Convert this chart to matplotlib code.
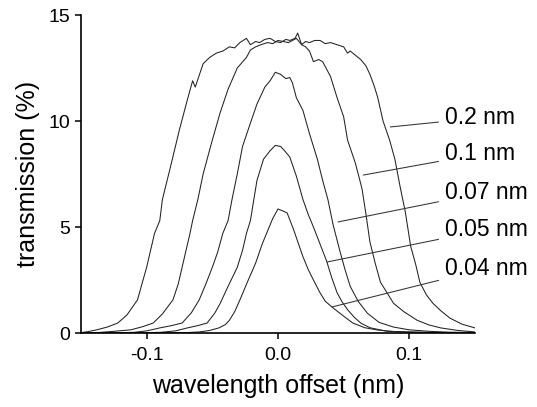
import matplotlib
matplotlib.use("Agg")
import matplotlib.pyplot as plt

plt.rcParams["font.family"] = ["Liberation Sans", "DejaVu Sans"]
plt.rcParams["axes.unicode_minus"] = False

# transmission curves (wavelength offset in nm, transmission in %)
x_02 = [-0.150, -0.145, -0.138, -0.130, -0.122, -0.115, -0.107, -0.100, -0.094, -0.090,
        -0.088, -0.082, -0.075, -0.069, -0.065, -0.063, -0.057, -0.052, -0.047, -0.042,
        -0.037, -0.033, -0.029, -0.024, -0.021, -0.017, -0.014, -0.010, -0.006, -0.002,
        0.002, 0.006, 0.009, 0.013, 0.015, 0.018, 0.021, 0.024, 0.028, 0.032, 0.036,
        0.040, 0.045, 0.050, 0.053, 0.055, 0.059, 0.063, 0.067, 0.070, 0.073, 0.076,
        0.080, 0.085, 0.089, 0.093, 0.097, 0.101, 0.105, 0.108, 0.113, 0.118, 0.124,
        0.131, 0.140, 0.150]
y_02 = [0.02, 0.06, 0.15, 0.28, 0.47, 0.85, 1.56, 3.1, 4.7, 5.3,
        6.3, 7.8, 9.6, 11.0, 11.9, 11.6, 12.7, 13.0, 13.2, 13.3,
        13.5, 13.45, 13.7, 13.9, 13.6, 13.75, 13.7, 13.85, 13.9, 13.75,
        13.7, 13.85, 13.8, 13.9, 14.15, 13.6, 13.75, 13.7, 13.8, 13.8, 13.65,
        13.7, 13.6, 13.5, 13.2, 13.3, 13.1, 12.9, 12.6, 12.2, 11.7, 11.1,
        10.0, 9.1, 8.2, 6.9, 5.7, 4.1, 3.2, 2.4, 1.8, 1.4, 1.05,
        0.7, 0.42, 0.24]

x_01 = [-0.150, -0.135, -0.125, -0.112, -0.103, -0.095, -0.088, -0.080, -0.076, -0.073,
        -0.067, -0.065, -0.061, -0.057, -0.050, -0.044, -0.038, -0.031, -0.024, -0.021,
        -0.017, -0.013, -0.008, -0.004, 0.000, 0.004, 0.008, 0.011, 0.014, 0.018,
        0.021, 0.024, 0.027, 0.031, 0.034, 0.040, 0.045, 0.050, 0.053, 0.059, 0.064,
        0.067, 0.070, 0.074, 0.078, 0.083, 0.088, 0.096, 0.106, 0.115, 0.124, 0.137,
        0.150]
y_01 = [0.0, 0.03, 0.08, 0.15, 0.3, 0.47, 0.9, 1.56, 2.3, 3.1,
        4.7, 5.3, 6.3, 7.5, 9.1, 10.4, 11.5, 12.5, 13.0, 13.35,
        13.5, 13.6, 13.7, 13.65, 13.8, 13.75, 13.7, 13.8, 13.9, 13.6,
        13.5, 13.3, 12.8, 12.9, 12.8, 12.1, 11.1, 10.2, 9.1, 8.0, 6.8,
        5.6, 4.3, 3.3, 2.4, 1.9, 1.4, 1.0, 0.6, 0.38, 0.24, 0.12,
        0.05]

x_007 = [-0.150, -0.125, -0.110, -0.100, -0.090, -0.081, -0.073, -0.066, -0.060, -0.055,
         -0.050, -0.046, -0.042, -0.038, -0.035, -0.031, -0.027, -0.021, -0.016, -0.010,
         -0.006, -0.002, 0.002, 0.006, 0.009, 0.011, 0.014, 0.019, 0.024, 0.030, 0.034,
         0.038, 0.042, 0.047, 0.051, 0.055, 0.061, 0.068, 0.077, 0.088, 0.100, 0.115,
         0.130, 0.150]
y_007 = [0.0, 0.01, 0.03, 0.1, 0.24, 0.35, 0.47, 0.95, 1.56, 2.3,
         3.1, 3.8, 4.7, 5.3, 6.3, 7.5, 8.8, 9.9, 10.8, 11.6,
         11.9, 12.3, 12.2, 12.0, 12.05, 11.8, 11.1, 10.5, 9.4, 8.2, 7.2,
         6.3, 5.1, 3.9, 3.0, 2.2, 1.5, 0.94, 0.5, 0.28, 0.15, 0.08,
         0.04, 0.02]

x_005 = [-0.150, -0.110, -0.090, -0.078, -0.069, -0.061, -0.054, -0.048, -0.044, -0.038,
         -0.031, -0.027, -0.024, -0.021, -0.016, -0.011, -0.006, -0.002, 0.002, 0.005,
         0.009, 0.014, 0.019, 0.023, 0.027, 0.032, 0.037, 0.041, 0.045, 0.049, 0.053,
         0.058, 0.063, 0.070, 0.083, 0.098, 0.120, 0.150]
y_005 = [0.0, 0.01, 0.03, 0.1, 0.24, 0.35, 0.47, 0.95, 1.4, 2.2,
         3.1, 3.9, 4.7, 5.3, 7.2, 8.2, 8.6, 8.85, 8.8, 8.6,
         8.3, 7.4, 6.3, 5.6, 5.0, 4.2, 3.4, 2.6, 1.9, 1.45, 1.1,
         0.75, 0.47, 0.25, 0.08, 0.05, 0.02, 0.01]

x_004 = [-0.150, -0.090, -0.070, -0.060, -0.052, -0.045, -0.040, -0.037, -0.033, -0.029,
         -0.024, -0.017, -0.012, -0.008, -0.004, 0.000, 0.004, 0.007, 0.012, 0.019,
         0.023, 0.027, 0.032, 0.036, 0.041, 0.047, 0.052, 0.057, 0.066, 0.076, 0.090,
         0.110, 0.150]
y_004 = [0.0, 0.01, 0.02, 0.05, 0.12, 0.24, 0.4, 0.6, 1.0, 1.56,
         2.3, 3.3, 4.2, 4.8, 5.4, 5.85, 5.75, 5.66, 4.86, 3.6,
         3.0, 2.5, 1.9, 1.5, 1.23, 0.94, 0.7, 0.47, 0.25, 0.14, 0.06,
         0.03, 0.01]

series_x = [x_02, x_01, x_007, x_005, x_004]
series_y = [y_02, y_01, y_007, y_005, y_004]
labels = ["0.2 nm", "0.1 nm", "0.07 nm", "0.05 nm", "0.04 nm"]

# where each leader line touches its curve, and where the label sits
label_touch_x = [0.0855, 0.0649, 0.0458, 0.0374, 0.0412]
label_touch_y = [9.72, 7.45, 5.24, 3.35, 1.23]
label_text_x = 0.1275
label_text_y = [10.15, 8.45, 6.65, 4.88, 3.05]

fig = plt.figure(figsize=(5.37, 4.07), dpi=100)
ax = fig.add_axes([0.1508, 0.1818, 0.7337, 0.7813])

for xs, ys in zip(series_x, series_y):
    ax.plot(xs, ys, color="#222222", lw=0.75)

for lab, tx, ty, ly in zip(labels, label_touch_x, label_touch_y, label_text_y):
    ax.annotate(lab, xy=(tx, ty), xytext=(label_text_x, ly), ha="left", va="center",
                fontsize=16.5, color="black",
                arrowprops=dict(arrowstyle="-", color="#333333", lw=0.75,
                                shrinkA=3, shrinkB=0))

ax.set_xlim(-0.15, 0.15)
ax.set_ylim(0, 15)
ax.set_xticks([-0.1, 0.0, 0.1])
ax.set_xticklabels(["-0.1", "0.0", "0.1"])
ax.set_yticks([0, 5, 10, 15])
ax.tick_params(labelsize=14, length=4, width=1.1, direction="out")
ax.tick_params(axis="x", pad=6)
ax.tick_params(axis="y", pad=4)

ax.spines["top"].set_visible(False)
ax.spines["right"].set_visible(False)
ax.spines["left"].set_linewidth(1.2)
ax.spines["bottom"].set_linewidth(1.2)

ax.set_xlabel("wavelength offset (nm)", fontsize=18, labelpad=7)
ax.set_ylabel("transmission (%)", fontsize=18, labelpad=6)

plt.savefig("out.png", dpi=100)
